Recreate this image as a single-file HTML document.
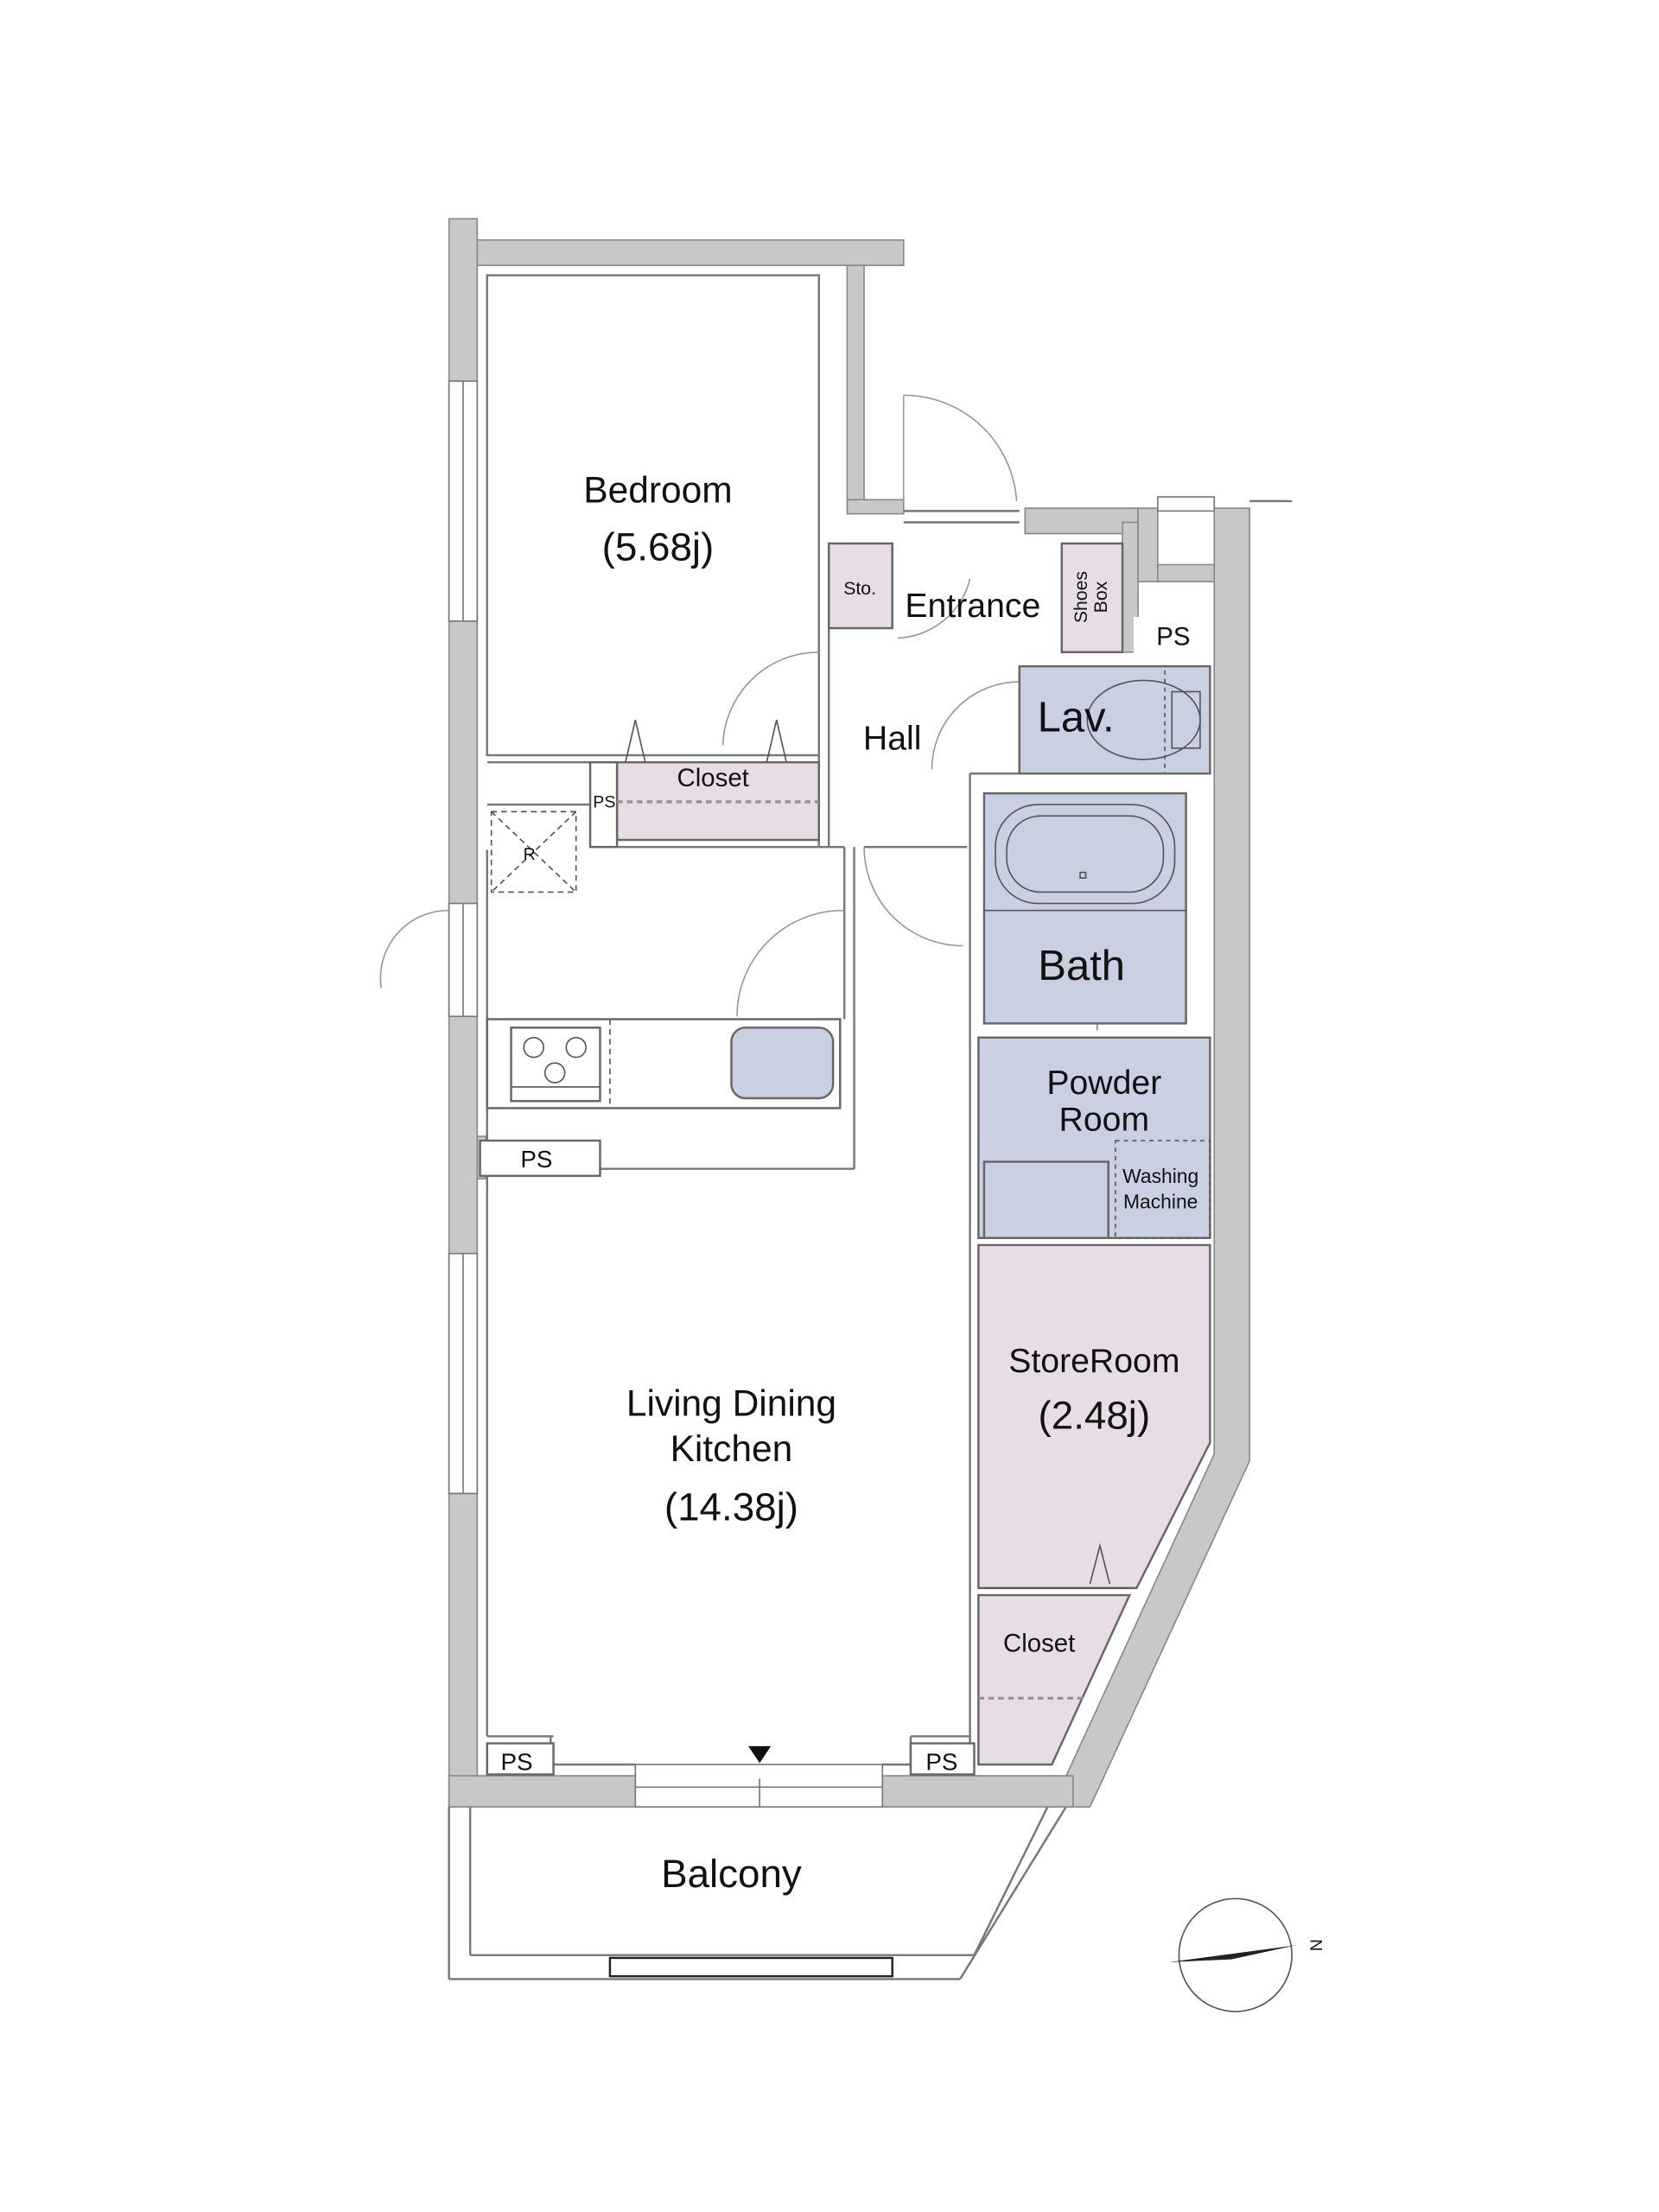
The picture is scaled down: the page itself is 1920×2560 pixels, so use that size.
<!DOCTYPE html>
<html><head><meta charset="utf-8"><style>
html,body{margin:0;padding:0;background:#fff;}
svg{display:block;}
text{font-family:"Liberation Sans",sans-serif;fill:#111;}
</style></head><body>
<svg width="1920" height="2560" viewBox="0 0 1175 1567" preserveAspectRatio="none" xmlns="http://www.w3.org/2000/svg">
<g fill="#c8c8c8" stroke="#888" stroke-width="1">
<rect x="318" y="155" width="20" height="1125"/>
<rect x="338" y="170" width="302" height="18"/>
<rect x="600" y="188" width="12" height="170"/>
<rect x="600" y="354" width="40" height="10"/>
<rect x="726" y="360" width="80" height="18"/>
<rect x="795" y="370" width="11" height="92"/>
<rect x="806" y="360" width="14" height="52"/>
<rect x="820" y="400" width="40" height="12"/>
<polygon points="860,360 885,360 885,1035 772,1280 745,1280 860,1030"/>
<rect x="318" y="1258" width="135" height="22"/>
<rect x="625" y="1258" width="135" height="22"/>
<rect x="338" y="805" width="6" height="30"/>
</g>
<g fill="#fff" stroke="#777" stroke-width="1">
<rect x="318" y="270" width="20" height="170"/>
<line x1="328" y1="270" x2="328" y2="440"/>
<rect x="318" y="640" width="20" height="80"/>
<line x1="328" y1="640" x2="328" y2="720"/>
<rect x="318" y="888" width="20" height="170"/>
<line x1="328" y1="888" x2="328" y2="1058"/>
<rect x="450" y="1250" width="175" height="30"/>
<line x1="450" y1="1266" x2="625" y2="1266"/>
<line x1="538" y1="1260" x2="538" y2="1280"/>
<rect x="820" y="352" width="40" height="10"/>
</g>
<g fill="none" stroke="#777" stroke-width="1.5">
<rect x="345" y="195" width="235" height="340"/>
<line x1="345" y1="540" x2="418" y2="540"/>
<line x1="345" y1="570" x2="418" y2="570"/>
<line x1="580" y1="465" x2="580" y2="600"/>
<line x1="587" y1="445" x2="587" y2="600"/>
<line x1="418" y1="600" x2="598" y2="600"/>
<line x1="345" y1="602" x2="345" y2="840"/>
<line x1="598" y1="600" x2="598" y2="722"/>
<line x1="605" y1="600" x2="605" y2="828"/>
<line x1="612" y1="600" x2="685" y2="600"/>
<line x1="425" y1="828" x2="605" y2="828"/>
<line x1="345" y1="838" x2="345" y2="1230"/>
<line x1="687" y1="548" x2="687" y2="1235"/>
<line x1="687" y1="548" x2="722" y2="548"/>
<line x1="640" y1="362" x2="722" y2="362"/>
<line x1="640" y1="370" x2="722" y2="370"/>
<line x1="392" y1="1250" x2="450" y2="1250"/>
<line x1="625" y1="1250" x2="645" y2="1250"/>
<line x1="390" y1="1230" x2="390" y2="1250"/>
<line x1="645" y1="1230" x2="645" y2="1250"/>
<line x1="345" y1="1230" x2="392" y2="1230"/>
<line x1="645" y1="1230" x2="687" y2="1230"/>
<line x1="318" y1="1280" x2="318" y2="1402"/>
<line x1="333" y1="1280" x2="333" y2="1385"/>
<line x1="333" y1="1385" x2="690" y2="1385"/>
<line x1="318" y1="1402" x2="680" y2="1402"/>
<line x1="742" y1="1280" x2="690" y2="1385"/>
<line x1="755" y1="1280" x2="680" y2="1402"/>
<line x1="915" y1="355" x2="885" y2="355"/>
<rect x="432" y="1387" width="200" height="13" stroke="#222"/>
<path d="M640 280 A80 80 0 0 1 720 355" stroke="#999" stroke-width="1"/>
<line x1="640" y1="280" x2="640" y2="355" stroke="#999" stroke-width="1"/>
<path d="M580 462 A68 68 0 0 0 512 528" stroke="#999" stroke-width="1"/>
<path d="M722 483 A62 62 0 0 0 660 545" stroke="#999" stroke-width="1"/>
<path d="M612 600 A70 70 0 0 0 682 670" stroke="#999" stroke-width="1"/>
<path d="M598 645 A75 75 0 0 0 522 720" stroke="#999" stroke-width="1"/>
<path d="M318 645 A48 48 0 0 0 270 700" stroke="#999" stroke-width="1"/>
<path d="M687 410 A55 55 0 0 1 636 452" stroke="#999" stroke-width="1"/>
<path d="M700 650 A75 75 0 0 1 777 730" stroke="#888" stroke-width="1"/>
</g>
<g stroke="#666" stroke-width="1.5">
<rect x="587" y="385" width="45" height="60" fill="#e8dde6"/>
<rect x="752" y="385" width="43" height="77" fill="#e8dde6"/>
<rect x="437" y="540" width="143" height="55" fill="#e8dde6"/>
<rect x="418" y="540" width="19" height="60" fill="#fff"/>
<rect x="722" y="472" width="135" height="76" fill="#c9d0e2"/>
<rect x="697" y="562" width="143" height="163" fill="#c9d0e2"/>
<rect x="693" y="735" width="164" height="142" fill="#c9d0e2"/>
<rect x="697" y="823" width="88" height="54" fill="#c9d0e2"/>
<polygon points="693,882 857,882 857,1022 805,1125 693,1125" fill="#e8dde6"/>
<polygon points="693,1130 800,1130 745,1250 693,1250" fill="#e8dde6"/>
<rect x="345" y="722" width="250" height="63" fill="#fff"/>
<rect x="362" y="728" width="63" height="52" fill="#fff"/>
<rect x="518" y="728" width="72" height="50" rx="10" fill="#c9d0e2"/>
<rect x="340" y="808" width="85" height="25" fill="#fff"/>
<rect x="345" y="1235" width="47" height="22" fill="#fff"/>
<rect x="645" y="1235" width="45" height="22" fill="#fff"/>
<rect x="803" y="437" width="55" height="28" fill="#fff" stroke="none"/>
</g>
<g fill="none" stroke="#555" stroke-width="1">
<rect x="705" y="570" width="127" height="70" rx="30"/>
<rect x="713" y="578" width="111" height="54" rx="24"/>
<line x1="697" y1="645" x2="840" y2="645"/>
<rect x="765" y="618" width="4" height="4"/>
<ellipse cx="810" cy="510" rx="40" ry="28"/>
<rect x="830" y="490" width="20" height="40"/>
<line x1="825" y1="475" x2="825" y2="548" stroke-dasharray="3,3"/>
<rect x="790" y="808" width="67" height="69" stroke-dasharray="3,3"/>
<line x1="437" y1="568" x2="580" y2="568" stroke="#a08aa0" stroke-width="2" stroke-dasharray="4,3"/>
<line x1="693" y1="1203" x2="770" y2="1203" stroke="#a08aa0" stroke-width="2" stroke-dasharray="4,3"/>
<rect x="348" y="575" width="60" height="57" stroke-dasharray="4,3"/>
<line x1="348" y1="575" x2="408" y2="632" stroke-dasharray="4,3"/>
<line x1="408" y1="575" x2="348" y2="632" stroke-dasharray="4,3"/>
<line x1="432" y1="722" x2="432" y2="785" stroke-dasharray="4,3"/>
<circle cx="378" cy="742" r="7"/><circle cx="408" cy="742" r="7"/><circle cx="393" cy="760" r="7"/>
<line x1="362" y1="770" x2="425" y2="770"/>
<path d="M443 540 L450 510 L457 540 M543 540 L550 510 L557 540"/>
<path d="M772 1122 L779 1095 L786 1122"/>
<line x1="697" y1="1125" x2="800" y2="1125"/>
<circle cx="875" cy="1385" r="40"/>
</g>
<polygon points="828,1390 918,1378 872,1388" fill="#222"/>
<polygon points="530,1237 546,1237 538,1249" fill="#111"/>
<g text-anchor="middle">
<text x="466" y="356" font-size="26">Bedroom</text>
<text x="466" y="397" font-size="28">(5.68j)</text>
<text x="609" y="421" font-size="13">Sto.</text>
<text x="689" y="437" font-size="24">Entrance</text>
<text x="0" y="0" font-size="13" transform="translate(770,423) rotate(-90)">Shoes</text>
<text x="0" y="0" font-size="13" transform="translate(784,423) rotate(-90)">Box</text>
<text x="831" y="457" font-size="18">PS</text>
<text x="762" y="518" font-size="30">Lav.</text>
<text x="632" y="531" font-size="24">Hall</text>
<text x="505" y="557" font-size="18">Closet</text>
<text x="428" y="572" font-size="12">PS</text>
<text x="375" y="609" font-size="12">R</text>
<text x="766" y="694" font-size="30">Bath</text>
<text x="782" y="775" font-size="24">Powder</text>
<text x="782" y="801" font-size="24">Room</text>
<text x="822" y="838" font-size="14">Washing</text>
<text x="822" y="856" font-size="14">Machine</text>
<text x="380" y="827" font-size="17">PS</text>
<text x="775" y="972" font-size="24">StoreRoom</text>
<text x="775" y="1012" font-size="28">(2.48j)</text>
<text x="518" y="1003" font-size="26">Living Dining</text>
<text x="518" y="1035" font-size="26">Kitchen</text>
<text x="518" y="1077" font-size="28">(14.38j)</text>
<text x="736" y="1170" font-size="18">Closet</text>
<text x="366" y="1254" font-size="17">PS</text>
<text x="667" y="1254" font-size="17">PS</text>
<text x="518" y="1337" font-size="28">Balcony</text>
<text x="0" y="0" font-size="12" transform="translate(928,1378) rotate(90)">N</text>
</g>
</svg>
</body></html>
